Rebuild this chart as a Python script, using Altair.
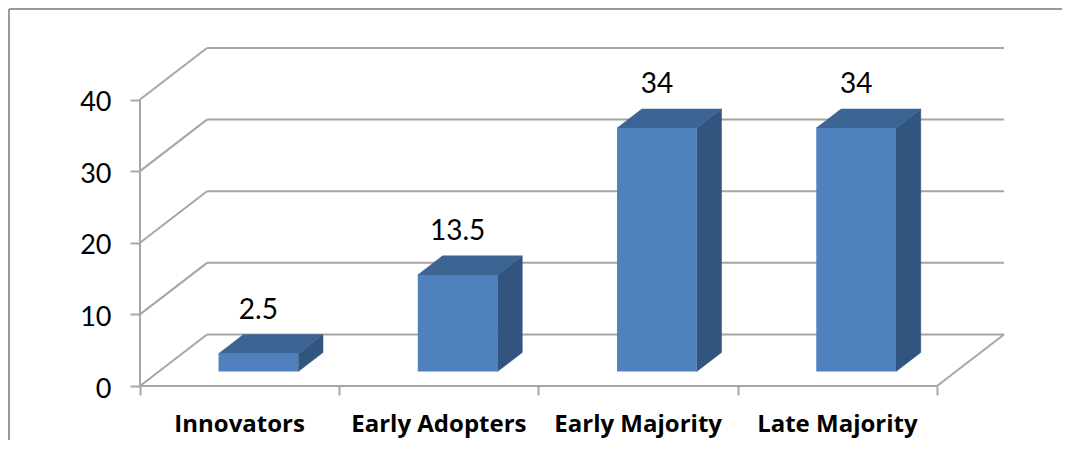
import altair as alt
import pandas as pd

# ---- data ----
categories = ["Innovators", "Early Adopters", "Early Majority", "Late Majority"]
values = [2.5, 13.5, 34, 34]
value_labels = ["2.5", "13.5", "34", "34"]
y_ticks = [0, 10, 20, 30, 40]

# ---- pseudo-3D geometry (oblique projection, in data units) ----
PXX = 199.25          # px per category unit
PXY = 7.16            # px per value unit
DX = 67 / PXX         # depth offset along x (category units)
DY = 51.5 / PXY       # depth offset along y (value units)
D0, D1 = 0.28, 0.65   # bar front / back depth fraction
BAR_L, BAR_R = 0.30, 0.70
N = len(categories)
XMAX = N + DX
YMAX = max(y_ticks) + DY
W = round(XMAX * PXX)
H = round(YMAX * PXY)

GRID = "#A6A6A6"
FRONT = "#4F81BD"
TOP = "#3C6594"
SIDE = "#32557F"
FONT = "Lato"
CAT_FONT = "Open Sans"

# gridline / wall segments
segs = []
for t in y_ticks:
    segs.append(dict(x=DX, y=t + DY, x2=N + DX, y2=t + DY))   # back wall
    segs.append(dict(x=0, y=t, x2=DX, y2=t + DY))             # side wall
segs.append(dict(x=N, y=0, x2=N + DX, y2=DY))                 # floor right edge
segs.append(dict(x=0, y=0, x2=N, y2=0))                        # floor front edge
segs.append(dict(x=0, y=0, x2=0, y2=max(y_ticks)))             # value axis line
seg_df = pd.DataFrame(segs)

front_rows, side_rows, top_rows, lab_rows, cat_rows = [], [], [], [], []
for i, (c, v, lab) in enumerate(zip(categories, values, value_labels)):
    front_rows.append(dict(cat=c, x=i + BAR_L + D0 * DX, x2=i + BAR_R + D0 * DX,
                           y=D0 * DY, y2=v + D0 * DY))
    for d in (D0, D1):
        side_rows.append(dict(cat=c, x=i + BAR_R + d * DX, y=d * DY, y2=v + d * DY))
        top_rows.append(dict(cat=c, y=v + d * DY, x=i + BAR_L + d * DX, x2=i + BAR_R + d * DX))
    lab_rows.append(dict(cat=c, x=i + 0.5 + D0 * DX, y=v + D1 * DY, label=lab))
    cat_rows.append(dict(cat=c, x=i + 0.5, y=0, label=c))

xs = alt.Scale(domain=[0, XMAX], nice=False, zero=False)
ys = alt.Scale(domain=[0, YMAX], nice=False, zero=False)
xaxis = alt.Axis(values=list(range(N + 1)), labels=False, domain=False, grid=False,
                 tickSize=9, tickColor=GRID, tickWidth=2, title=None)
yaxis = alt.Axis(values=y_ticks, domain=False, grid=False, tickSize=10, tickColor=GRID,
                 tickWidth=2, labelFont=FONT, labelFontSize=27, labelColor="black",
                 labelPadding=19, labelOffset=3, title=None)
X = alt.X("x:Q", scale=xs, axis=xaxis)
Y = alt.Y("y:Q", scale=ys, axis=yaxis)

grid = alt.Chart(seg_df).mark_rule(color=GRID, strokeWidth=2).encode(
    x=X, y=Y, x2="x2:Q", y2="y2:Q")

side = alt.Chart(pd.DataFrame(side_rows)).mark_area(color=SIDE, stroke=SIDE, strokeWidth=0.5).encode(
    x=X, y=Y, y2="y2:Q", detail="cat:N")
top = alt.Chart(pd.DataFrame(top_rows)).mark_area(orient="horizontal", color=TOP, stroke=TOP,
                                                   strokeWidth=0.5).encode(
    y=Y, x=X, x2="x2:Q", detail="cat:N")
front = alt.Chart(pd.DataFrame(front_rows)).mark_rect(color=FRONT).encode(
    x=X, x2="x2:Q", y=Y, y2="y2:Q")

vlabels = alt.Chart(pd.DataFrame(lab_rows)).mark_text(
    font=FONT, fontSize=28, color="black", baseline="middle", align="center", dy=-24
).encode(x=X, y=Y, text="label:N")

clabels = alt.Chart(pd.DataFrame(cat_rows)).mark_text(
    font=CAT_FONT, fontSize=24, fontWeight="bold", color="black", baseline="middle",
    align="center", dy=39
).encode(x=X, y=Y, text="label:N")

one = pd.DataFrame({"k": [0]})
frame_top = alt.Chart(one).mark_rule(color="#9A9A9A", strokeWidth=2).encode(
    x=alt.value(-131), x2=alt.value(1000), y=alt.value(-39))
frame_left = alt.Chart(one).mark_rule(color="#9A9A9A", strokeWidth=2).encode(
    x=alt.value(-131), y=alt.value(-39), y2=alt.value(500))

chart = alt.layer(
    grid, side, top, front, vlabels, clabels, frame_top, frame_left
).properties(
    width=W, height=H,
    autosize=alt.AutoSizeParams(type="none"),
    padding={"left": 132, "top": 40, "right": 58, "bottom": 54},
    background="white",
).configure_view(stroke=None)

chart.save("out.html", embed_options={"renderer": "svg", "actions": False})
